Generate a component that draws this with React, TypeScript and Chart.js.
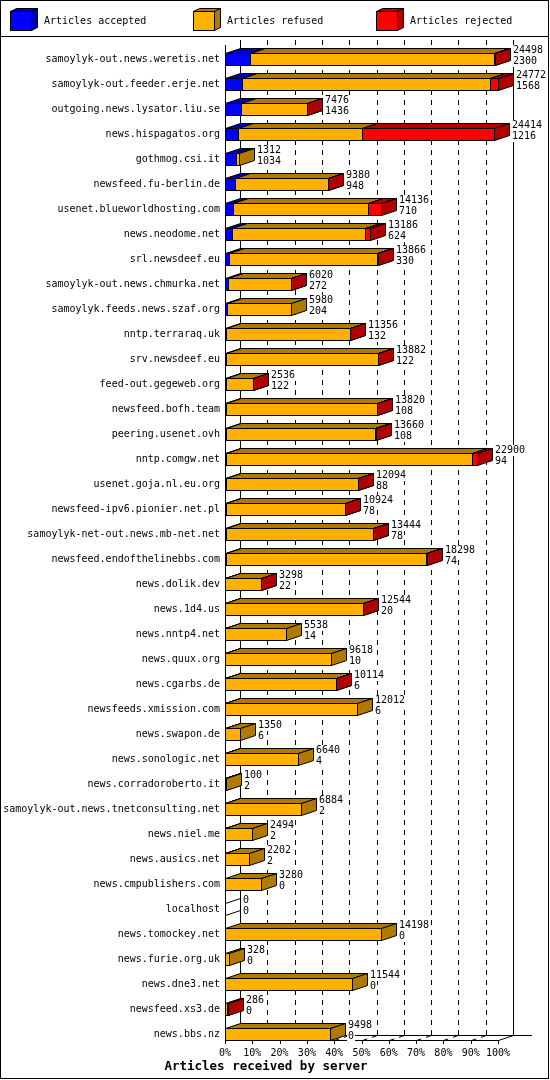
import { useEffect, useRef } from 'react';
import { Chart, registerables } from 'chart.js';
import type { Plugin } from 'chart.js';

Chart.register(...registerables);

const HOSTS = [
  'samoylyk-out.news.weretis.net', 'samoylyk-out.feeder.erje.net', 'outgoing.news.lysator.liu.se',
  'news.hispagatos.org', 'gothmog.csi.it', 'newsfeed.fu-berlin.de', 'usenet.blueworldhosting.com',
  'news.neodome.net', 'srl.newsdeef.eu', 'samoylyk-out.news.chmurka.net', 'samoylyk.feeds.news.szaf.org',
  'nntp.terraraq.uk', 'srv.newsdeef.eu', 'feed-out.gegeweb.org', 'newsfeed.bofh.team',
  'peering.usenet.ovh', 'nntp.comgw.net', 'usenet.goja.nl.eu.org', 'newsfeed-ipv6.pionier.net.pl',
  'samoylyk-net-out.news.mb-net.net', 'newsfeed.endofthelinebbs.com', 'news.dolik.dev', 'news.1d4.us',
  'news.nntp4.net', 'news.quux.org', 'news.cgarbs.de', 'newsfeeds.xmission.com', 'news.swapon.de',
  'news.sonologic.net', 'news.corradoroberto.it', 'samoylyk-out.news.tnetconsulting.net', 'news.niel.me',
  'news.ausics.net', 'news.cmpublishers.com', 'localhost', 'news.tomockey.net', 'news.furie.org.uk',
  'news.dne3.net', 'newsfeed.xs3.de', 'news.bbs.nz',
];

// first number printed next to each bar
const OFFERED = [
  24498, 24772, 7476, 24414, 1312, 9380, 14136, 13186, 13866, 6020, 5980, 11356, 13882, 2536,
  13820, 13660, 22900, 12094, 10924, 13444, 18298, 3298, 12544, 5538, 9618, 10114, 12012, 1350,
  6640, 100, 6884, 2494, 2202, 3280, 0, 14198, 328, 11544, 286, 9498,
];
// second number printed next to each bar
const ACCEPTED = [
  2300, 1568, 1436, 1216, 1034, 948, 710, 624, 330, 272, 204, 132, 122, 122, 108, 108, 94, 88,
  78, 78, 74, 22, 20, 14, 10, 6, 6, 6, 4, 2, 2, 2, 2, 0, 0, 0, 0, 0, 0, 0,
];
const REFUSED = [
  22078, 22504, 6000, 11260, 278, 8402, 12226, 12112, 13506, 5728, 5776, 11204, 13740, 2394,
  13692, 13532, 22356, 11986, 10826, 13346, 18204, 3266, 12514, 5524, 9608, 10098, 12006, 1344,
  6636, 98, 6882, 2492, 2200, 3280, 0, 14198, 328, 11544, 180, 9498,
];
const REJECTED = [
  120, 700, 40, 11938, 0, 30, 1200, 450, 30, 20, 0, 20, 20, 20, 20, 20, 450, 20, 20, 20, 20, 10,
  10, 0, 0, 10, 0, 0, 0, 0, 0, 0, 0, 0, 0, 0, 0, 0, 106, 0,
];

const SERIES = ['Articles accepted', 'Articles refused', 'Articles rejected'];
const PCT_TICKS = [0, 10, 20, 30, 40, 50, 60, 70, 80, 90, 100];
const X_TITLE = 'Articles received by server';

const FRONT = ['#0000ff', '#ffb000', '#ff0000'];
const SHADE = ['#0000b0', '#b07900', '#b00000'];
const DX = 15;
const DY = 5;
const MONO = '"DejaVu Sans Mono", monospace';
const MAX = Math.max(...OFFERED);

type Ctx = CanvasRenderingContext2D;

function poly(ctx: Ctx, pts: number[][]) {
  ctx.beginPath();
  pts.forEach(([x, y], k) => (k ? ctx.lineTo(x + 0.5, y + 0.5) : ctx.moveTo(x + 0.5, y + 0.5)));
  ctx.closePath();
  ctx.fill();
  ctx.stroke();
}

function box3d(ctx: Ctx, x1: number, x2: number, yt: number, h: number, s: number, dx: number, dy: number) {
  const yb = yt + h;
  ctx.fillStyle = FRONT[s];
  ctx.fillRect(x1, yt, x2 - x1, h);
  ctx.strokeRect(x1 + 0.5, yt + 0.5, x2 - x1, h);
  ctx.fillStyle = SHADE[s];
  poly(ctx, [[x1, yt], [x2, yt], [x2 + dx, yt - dy], [x1 + dx, yt - dy]]);
  poly(ctx, [[x2, yt], [x2 + dx, yt - dy], [x2 + dx, yb - dy], [x2, yb]]);
}

function line(ctx: Ctx, x1: number, y1: number, x2: number, y2: number) {
  ctx.beginPath();
  ctx.moveTo(x1, y1);
  ctx.lineTo(x2, y2);
  ctx.stroke();
}

// text on a white patch, so grid lines do not run through it
function label(ctx: Ctx, s: string, x: number, cy: number) {
  const w = ctx.measureText(s).width;
  ctx.fillStyle = '#fff';
  ctx.fillRect(x - 1, cy - 5, w + 2, 11);
  ctx.fillStyle = '#000';
  ctx.fillText(s, x, cy);
}

const depthPlugin: Plugin<'bar'> = {
  id: 'depth3d',
  beforeDatasetsDraw(chart) {
    const ctx = chart.ctx;
    const xs = chart.scales.x;
    const ys = chart.scales.y;
    const y0 = ys.getPixelForValue(0);
    const yN = ys.getPixelForValue(HOSTS.length - 1);
    const frontTop = Math.round(y0 - 14);
    const backTop = frontTop - DY;
    const floorFront = Math.round(yN + 6);
    const floorBack = floorFront - DY;
    const x0 = Math.round(xs.getPixelForValue(0));
    const xEnd = Math.round(xs.getPixelForValue(MAX));

    ctx.save();
    ctx.strokeStyle = '#000';
    ctx.lineWidth = 1;

    // back wall grid
    PCT_TICKS.forEach((p) => {
      const xf = Math.round(xs.getPixelForValue((MAX * p) / 100));
      const xb = xf + DX + 0.5;
      const solid = p === 0 || p === 100;
      ctx.setLineDash(solid ? [] : [5, 5]);
      line(ctx, xb, backTop, xb, floorBack + 0.5);
      line(ctx, xf + 0.5, floorFront + 0.5, xb, floorBack + 0.5);
      ctx.setLineDash([]);
      line(ctx, xf + 0.5, floorFront, xf + 0.5, floorFront + 4);
    });
    // floor edges and front axis
    line(ctx, x0 + DX, floorBack + 0.5, xEnd + DX + 19, floorBack + 0.5);
    line(ctx, x0, floorFront + 0.5, xEnd + 1, floorFront + 0.5);
    line(ctx, x0 + 0.5, frontTop, x0 + 0.5, floorFront + 4);

    // legend
    ctx.font = '10px ' + MONO;
    ctx.textBaseline = 'middle';
    ctx.textAlign = 'left';
    SERIES.forEach((name, k) => {
      const bx = 10 + k * 183;
      box3d(ctx, bx, bx + 21, 11, 19, k, 6, 3);
      ctx.fillStyle = '#000';
      ctx.fillText(name, bx + 34, 21);
    });
    line(ctx, 0, 36.5, 548, 36.5);

    // x axis title
    ctx.font = 'bold 12.5px ' + MONO;
    ctx.textAlign = 'center';
    ctx.fillStyle = '#000';
    ctx.fillText(X_TITLE, 266, 1067);

    ctx.strokeRect(0.5, 0.5, 548, 1078);
    ctx.restore();
  },
  afterDatasetsDraw(chart) {
    const ctx = chart.ctx;
    ctx.save();
    ctx.strokeStyle = '#000';
    ctx.lineWidth = 1;
    const metas = [0, 1, 2].map((d) => chart.getDatasetMeta(d));
    const ends: number[] = [];
    const tops: number[] = [];
    HOSTS.forEach((_, i) => {
      const empty = OFFERED[i] === 0;
      metas.forEach((meta, d) => {
        const el = meta.data[i];
        const { x, y, base, height } = el.getProps(['x', 'y', 'base', 'height'], true) as any;
        const yt = Math.round(y - height / 2);
        tops[i] = yt;
        ends[i] = Math.round(x);
        const v = chart.data.datasets[d].data[i] as number;
        if (v > 0) {
          box3d(ctx, Math.round(base), Math.round(x), yt, Math.round(height), d, DX, DY);
        } else if (empty && d === 0) {
          ctx.fillStyle = '#fff';
          const x1 = Math.round(base);
          poly(ctx, [[x1, yt], [x1 + DX, yt - DY], [x1 + DX, yt + 12 - DY], [x1, yt + 12]]);
        }
      });
    });
    ctx.font = '10px ' + MONO;
    ctx.textAlign = 'left';
    ctx.textBaseline = 'middle';
    HOSTS.forEach((_, i) => {
      label(ctx, String(OFFERED[i]), ends[i] + DX + 3, tops[i] - 3);
      label(ctx, String(ACCEPTED[i]), ends[i] + DX + 3, tops[i] + 8);
    });
    ctx.restore();
  },
};

export default function App() {
  const canvasRef = useRef<HTMLCanvasElement>(null);

  useEffect(() => {
    document.body.style.margin = '0';
    if (!canvasRef.current) return;
    Chart.defaults.font.family = MONO;
    Chart.defaults.font.size = 10;
    Chart.defaults.color = '#000';

    const clear = 'rgba(0,0,0,0)';
    const chart = new Chart(canvasRef.current, {
      type: 'bar',
      data: {
        labels: HOSTS,
        datasets: [
          { label: SERIES[0], data: ACCEPTED, backgroundColor: clear, borderWidth: 0, barThickness: 12 },
          { label: SERIES[1], data: REFUSED, backgroundColor: clear, borderWidth: 0, barThickness: 12 },
          { label: SERIES[2], data: REJECTED, backgroundColor: clear, borderWidth: 0, barThickness: 12 },
        ],
      },
      options: {
        indexAxis: 'y',
        responsive: false,
        animation: false,
        devicePixelRatio: 1,
        layout: { padding: { top: 46.5, left: 0, right: 52, bottom: 0 } },
        plugins: { legend: { display: false }, tooltip: { enabled: false } },
        scales: {
          x: {
            stacked: true,
            min: 0,
            max: MAX,
            afterBuildTicks: (s) => { s.ticks = PCT_TICKS.map((p) => ({ value: (MAX * p) / 100 })); },
            afterFit: (s) => { s.height = 33.5; },
            ticks: { callback: (_v, i) => PCT_TICKS[i] + '%', autoSkip: false, maxRotation: 0, padding: 1 },
            grid: { display: false, drawTicks: false },
            border: { display: false },
          },
          y: {
            stacked: true,
            afterFit: (s) => { s.width = 225; },
            ticks: { autoSkip: false, padding: 5 },
            grid: { display: false, drawTicks: false },
            border: { display: false },
          },
        },
      },
      plugins: [depthPlugin],
    });

    return () => chart.destroy();
  }, []);

  return (
    <div style={{ width: 550, height: 1080 }}>
      <canvas ref={canvasRef} width={550} height={1080} />
    </div>
  );
}
